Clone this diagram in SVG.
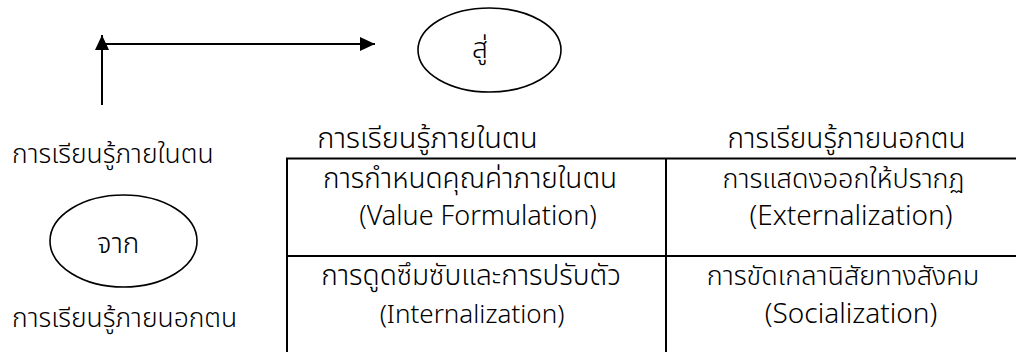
<svg xmlns="http://www.w3.org/2000/svg" width="1016" height="352" viewBox="0 0 1016 352">
<style>
  .t{font-family:"Noto Sans","Noto Sans Thai","Open Sans",sans-serif;font-size:28px;font-weight:300;fill:#000}
  .s{font-size:26.5px}
  .c{text-anchor:middle}
  .ln{stroke:#000;stroke-width:2;fill:none}
  .el{stroke:#000;stroke-width:1.6;fill:none}
</style>
<defs>
  <marker id="ah" markerWidth="15" markerHeight="14" refX="15" refY="7" orient="auto" markerUnits="userSpaceOnUse" viewBox="0 0 15 14">
    <path d="M0,0 L15,7 L0,14 z" fill="#000"/>
  </marker>
</defs>
<g id="connectors">
  <line class="ln" x1="102" y1="105" x2="102" y2="35" stroke-width="2.5" marker-end="url(#ah)"/>
  <line class="ln" x1="104" y1="44" x2="375" y2="44" stroke-width="2.5" marker-end="url(#ah)"/>
</g>
<g id="node-su">
  <ellipse class="el" cx="489.5" cy="50" rx="71.5" ry="42"/>
  <text class="t c" x="480" y="58">สู่</text>
</g>
<g id="node-jak">
  <ellipse class="el" cx="123.5" cy="241" rx="73.5" ry="46"/>
  <text class="t c" x="118" y="253">จาก</text>
</g>
<g id="label-left">
  <text class="t s" x="12" y="163">การเรียนรู้ภายในตน</text>
  <text class="t s" x="12" y="327">การเรียนรู้ภายนอกตน</text>
</g>
<g id="table">
  <line class="ln" x1="286" y1="158.5" x2="1016" y2="158.5"/>
  <line class="ln" x1="287" y1="158" x2="287" y2="352"/>
  <line class="ln" x1="666" y1="158" x2="666" y2="352"/>
  <line class="ln" x1="286" y1="256" x2="1016" y2="256"/>
  <text class="t c" x="427.5" y="148" style="font-size:29px">การเรียนรู้ภายในตน</text>
  <text class="t c" x="846.5" y="148">การเรียนรู้ภายนอกตน</text>
  <text class="t c" x="470" y="188">การกำหนดคุณค่าภายในตน</text>
  <text class="t c" x="478" y="225" style="font-size:27px">(Value Formulation)</text>
  <text class="t c" x="843.5" y="188" style="font-size:27px">การแสดงออกให้ปรากฏ</text>
  <text class="t c" x="851" y="225">(Externalization)</text>
  <text class="t c" x="471" y="285">การดูดซึมซับและการปรับตัว</text>
  <text class="t c" x="472" y="323" style="font-size:26px">(Internalization)</text>
  <text class="t c" x="843" y="285" style="font-size:27px">การขัดเกลานิสัยทางสังคม</text>
  <text class="t c" x="851" y="323">(Socialization)</text>
</g>
</svg>
